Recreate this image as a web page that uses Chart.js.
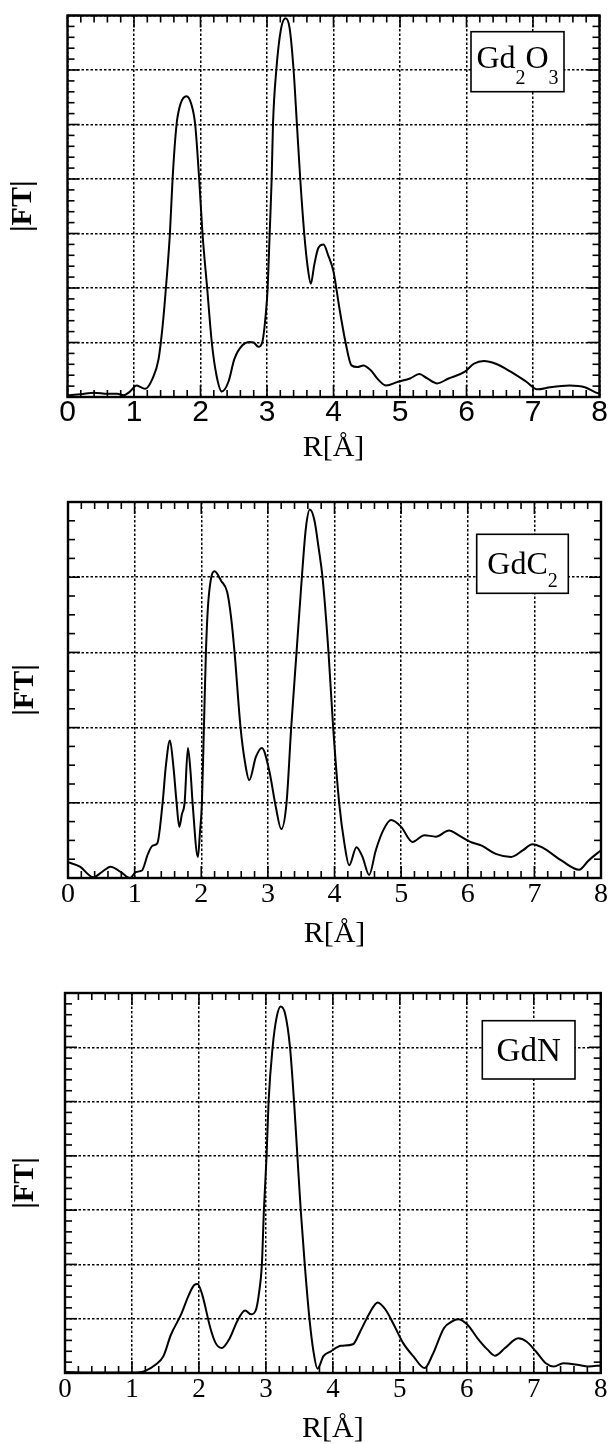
<!DOCTYPE html>
<html>
<head>
<meta charset="utf-8">
<script src="https://cdn.jsdelivr.net/npm/chart.js@4.4.0/dist/chart.umd.min.js"></script>
<style>
  html, body { margin: 0; padding: 0; background: #fff; }
  body { width: 611px; height: 1444px; position: relative; overflow: hidden; }
  canvas { position: absolute; left: 0; }
</style>
</head>
<body>
<canvas id="c1" width="611" height="475" style="top:0px"></canvas>
<canvas id="c2" width="611" height="480" style="top:480px"></canvas>
<canvas id="c3" width="611" height="484" style="top:960px"></canvas>
<script>
// ---- data ---------------------------------------------------------------
const xTickLabels = ['0', '1', '2', '3', '4', '5', '6', '7', '8'];
const xTitle = 'R[Å]';
const yTitle = '|FT|';

// Gd2O3
const gd2o3R  = [0.00, 0.20, 0.40, 0.60, 0.75, 0.84, 0.93, 1.04, 1.10, 1.17, 1.28, 1.37, 1.43, 1.48, 1.54, 1.58, 1.64, 1.70, 1.79, 1.86, 1.92, 1.98, 2.03, 2.10, 2.17, 2.24, 2.32, 2.42, 2.51, 2.63, 2.74, 2.80, 2.87, 2.93, 2.98, 3.01, 3.04, 3.07, 3.09, 3.14, 3.21, 3.28, 3.34, 3.40, 3.45, 3.50, 3.56, 3.61, 3.66, 3.71, 3.77, 3.85, 3.92, 4.00, 4.09, 4.18, 4.27, 4.36, 4.45, 4.56, 4.68, 4.79, 4.97, 5.15, 5.29, 5.41, 5.56, 5.73, 5.97, 6.11, 6.26, 6.44, 6.67, 6.90, 7.07, 7.26, 7.55, 7.78, 7.93, 8.00];
const gd2o3FT = [0.03, 0.05, 0.08, 0.06, 0.06, 0.03, 0.09, 0.21, 0.18, 0.15, 0.34, 0.70, 1.30, 2.00, 3.00, 4.00, 5.00, 5.38, 5.52, 5.38, 5.00, 4.00, 3.00, 2.00, 1.00, 0.40, 0.10, 0.28, 0.70, 0.95, 1.01, 1.00, 0.92, 1.01, 1.50, 2.00, 3.00, 4.00, 5.00, 6.00, 6.75, 6.95, 6.77, 6.00, 5.00, 4.00, 3.00, 2.40, 2.08, 2.42, 2.73, 2.80, 2.60, 2.30, 1.62, 1.01, 0.58, 0.55, 0.58, 0.49, 0.31, 0.21, 0.28, 0.34, 0.42, 0.34, 0.25, 0.34, 0.46, 0.61, 0.66, 0.61, 0.46, 0.28, 0.14, 0.18, 0.21, 0.18, 0.09, 0.06];

// GdC2
const gdc2R  = [0.00, 0.18, 0.38, 0.51, 0.64, 0.79, 0.93, 1.02, 1.11, 1.20, 1.27, 1.34, 1.42, 1.47, 1.53, 1.58, 1.63, 1.67, 1.71, 1.75, 1.80, 1.84, 1.87, 1.95, 1.98, 2.01, 2.04, 2.07, 2.10, 2.15, 2.20, 2.30, 2.39, 2.45, 2.50, 2.59, 2.66, 2.72, 2.82, 2.91, 3.02, 3.12, 3.20, 3.28, 3.35, 3.43, 3.51, 3.57, 3.63, 3.70, 3.76, 3.82, 3.91, 3.98, 4.07, 4.15, 4.22, 4.33, 4.42, 4.52, 4.62, 4.74, 4.85, 5.00, 5.17, 5.35, 5.52, 5.72, 5.86, 6.04, 6.21, 6.42, 6.65, 6.83, 6.97, 7.11, 7.41, 7.67, 7.81, 8.00];
const gdc2FT = [0.21, 0.15, 0.01, 0.08, 0.15, 0.08, 0.00, 0.08, 0.10, 0.32, 0.43, 0.46, 1.00, 1.50, 1.83, 1.50, 1.00, 0.68, 0.85, 1.00, 1.73, 1.40, 1.00, 0.28, 0.60, 1.00, 2.00, 3.00, 3.60, 4.00, 4.08, 3.95, 3.80, 3.45, 3.00, 2.00, 1.52, 1.30, 1.61, 1.73, 1.43, 0.94, 0.65, 1.00, 2.00, 3.00, 4.00, 4.65, 4.90, 4.75, 4.40, 4.00, 3.00, 2.00, 1.00, 0.45, 0.17, 0.41, 0.28, 0.04, 0.37, 0.65, 0.77, 0.68, 0.48, 0.57, 0.55, 0.63, 0.57, 0.48, 0.43, 0.32, 0.28, 0.37, 0.45, 0.41, 0.23, 0.11, 0.23, 0.37];

// GdN
const gdnR  = [0.00, 0.47, 1.00, 1.20, 1.35, 1.47, 1.58, 1.73, 1.85, 1.93, 1.98, 2.05, 2.17, 2.25, 2.34, 2.46, 2.57, 2.69, 2.78, 2.85, 2.90, 2.94, 2.97, 3.01, 3.04, 3.10, 3.16, 3.22, 3.29, 3.36, 3.42, 3.47, 3.52, 3.58, 3.65, 3.71, 3.77, 3.86, 3.97, 4.12, 4.30, 4.41, 4.56, 4.67, 4.79, 4.91, 5.05, 5.20, 5.37, 5.49, 5.66, 5.78, 5.87, 6.01, 6.16, 6.31, 6.42, 6.57, 6.71, 6.77, 6.89, 7.03, 7.18, 7.30, 7.44, 7.65, 7.82, 8.00];
const gdnFT = [0.02, 0.01, 0.01, 0.04, 0.15, 0.31, 0.70, 1.07, 1.44, 1.62, 1.64, 1.44, 0.83, 0.55, 0.46, 0.64, 0.95, 1.15, 1.08, 1.16, 1.50, 2.00, 3.00, 4.00, 5.00, 6.00, 6.55, 6.75, 6.60, 6.00, 5.00, 4.00, 3.00, 2.00, 1.00, 0.40, 0.08, 0.31, 0.40, 0.50, 0.53, 0.77, 1.13, 1.30, 1.16, 0.89, 0.55, 0.31, 0.09, 0.34, 0.83, 0.95, 0.99, 0.89, 0.64, 0.43, 0.32, 0.46, 0.61, 0.64, 0.58, 0.40, 0.18, 0.12, 0.18, 0.15, 0.12, 0.14];

// ---- panel layout (page pixels) -----------------------------------------
const SERIF = '"Liberation Serif", "Times New Roman", serif';
const SANS = '"Liberation Sans", Arial, sans-serif';

const panels = [
  {
    id: 'c1', top: 0, height: 475,
    area: { left: 67.5, right: 599.5, top: 15.5, bottom: 397 },
    r: gd2o3R, ft: gd2o3FT, yMax: 7, yMinor: 0.2,
    tickFont: { family: SANS, size: 30, lineHeight: 1 }, tickPad: 0.5,
    xTitlePad: 11.5, yTitlePad: 8,
    box: { l: 471, t: 31.7, r: 564, b: 91.7, base: 68, size: 32, sub: 20, drop: 16,
           parts: [['Gd', 0], ['2', 1], ['O', 0], ['3', 1]] }
  },
  {
    id: 'c2', top: 480, height: 480,
    area: { left: 68, right: 603, top: 502, bottom: 878 },
    r: gdc2R, ft: gdc2FT, yMax: 5, yMinor: 0.25,
    tickFont: { family: SERIF, size: 28, lineHeight: 1 }, tickPad: 3,
    xTitlePad: 11, yTitlePad: 10,
    box: { l: 476.7, t: 534.3, r: 568.3, b: 593.3, base: 574.3, size: 32, sub: 20, drop: 13,
           parts: [['GdC', 0], ['2', 1]] }
  },
  {
    id: 'c3', top: 960, height: 484,
    area: { left: 65, right: 601, top: 993, bottom: 1373 },
    r: gdnR, ft: gdnFT, yMax: 7, yMinor: 0.2,
    tickFont: { family: SERIF, size: 27, lineHeight: 1 }, tickPad: 3.5,
    xTitlePad: 0, yTitlePad: 10,
    box: { l: 482.3, t: 1020.7, r: 575, b: 1079, base: 1061, size: 33, sub: 20, drop: 13,
           parts: [['GdN', 0]] }
  }
];

// Frame, inward tick marks and the compound label box
const framePlugin = {
  id: 'frameTicks',
  afterDraw(chart, args, opts) {
    const { ctx, chartArea: a, scales: { x, y } } = chart;
    const p = opts.panel;
    const line = (x1, y1, x2, y2) => { ctx.beginPath(); ctx.moveTo(x1, y1); ctx.lineTo(x2, y2); ctx.stroke(); };
    ctx.save();
    ctx.strokeStyle = '#000';
    ctx.lineWidth = 1.6;
    ctx.setLineDash([]);

    const nx = Math.round((x.max - x.min) / 0.2);
    for (let i = 0; i <= nx; i++) {
      const v = x.min + i * 0.2;
      const px = x.getPixelForValue(v);
      const len = (i % 5 === 0) ? 12 : 7;
      line(px, a.bottom, px, a.bottom - len);
      line(px, a.top, px, a.top + len);
    }
    const per = Math.round(1 / p.yMinor);
    const ny = Math.round((y.max - y.min) / p.yMinor);
    for (let i = 0; i <= ny; i++) {
      const v = y.min + i * p.yMinor;
      const py = y.getPixelForValue(v);
      const len = (i % per === 0) ? 12 : 7;
      line(a.left, py, a.left + len, py);
      line(a.right, py, a.right - len, py);
    }

    ctx.lineWidth = 2.4;
    ctx.strokeRect(a.left, a.top, a.right - a.left, a.bottom - a.top);

    // label box
    const b = p.box, off = p.top;
    ctx.fillStyle = '#fff';
    ctx.fillRect(b.l, b.t - off, b.r - b.l, b.b - b.t);
    ctx.lineWidth = 1.6;
    ctx.strokeRect(b.l, b.t - off, b.r - b.l, b.b - b.t);
    ctx.fillStyle = '#000';
    ctx.textBaseline = 'alphabetic';
    ctx.textAlign = 'left';
    let total = 0;
    for (const [txt, sub] of b.parts) {
      ctx.font = (sub ? b.sub : b.size) + 'px ' + SERIF;
      total += ctx.measureText(txt).width;
    }
    let cx = (b.l + b.r) / 2 - total / 2;
    for (const [txt, sub] of b.parts) {
      ctx.font = (sub ? b.sub : b.size) + 'px ' + SERIF;
      ctx.fillText(txt, cx, b.base - off + (sub ? b.drop : 0));
      cx += ctx.measureText(txt).width;
    }
    ctx.restore();
  }
};

Chart.defaults.color = '#000';

for (const p of panels) {
  const topLocal = p.area.top - p.top;
  const bottomLocal = p.area.bottom - p.top;
  new Chart(document.getElementById(p.id), {
    type: 'line',
    data: {
      datasets: [{
        data: p.r.map((r, i) => ({ x: r, y: p.ft[i] })),
        borderColor: '#000',
        borderWidth: 2,
        pointRadius: 0,
        fill: false,
        cubicInterpolationMode: 'monotone'
      }]
    },
    options: {
      responsive: false,
      animation: false,
      devicePixelRatio: 1,
      layout: { padding: { left: 0, right: 611 - p.area.right, top: topLocal, bottom: 0 } },
      plugins: {
        legend: { display: false },
        tooltip: { enabled: false },
        frameTicks: { panel: p }
      },
      scales: {
        x: {
          type: 'linear',
          min: 0, max: 8,
          afterFit: s => { s.height = p.height - bottomLocal; },
          ticks: {
            stepSize: 1,
            autoSkip: false,
            maxRotation: 0,
            padding: p.tickPad,
            color: '#000',
            font: p.tickFont,
            callback: (v) => xTickLabels[Math.round(v)]
          },
          grid: { color: '#000', lineWidth: 1.5, drawTicks: false },
          border: { display: false, dash: [2.5, 2] },
          title: {
            display: true, text: xTitle, color: '#000',
            font: { family: SERIF, size: 30, lineHeight: 1 },
            padding: { top: 0, bottom: p.xTitlePad }
          }
        },
        y: {
          type: 'linear',
          min: 0, max: p.yMax,
          afterFit: s => { s.width = p.area.left; },
          ticks: { stepSize: 1, display: false },
          grid: { color: '#000', lineWidth: 1.5, drawTicks: false },
          border: { display: false, dash: [2.5, 2] },
          title: {
            display: true, text: yTitle, color: '#000',
            font: { family: SERIF, size: 30, weight: 'bold', lineHeight: 1 },
            padding: { top: p.yTitlePad, bottom: 0 }
          }
        }
      }
    },
    plugins: [framePlugin]
  });
}
</script>
</body>
</html>
